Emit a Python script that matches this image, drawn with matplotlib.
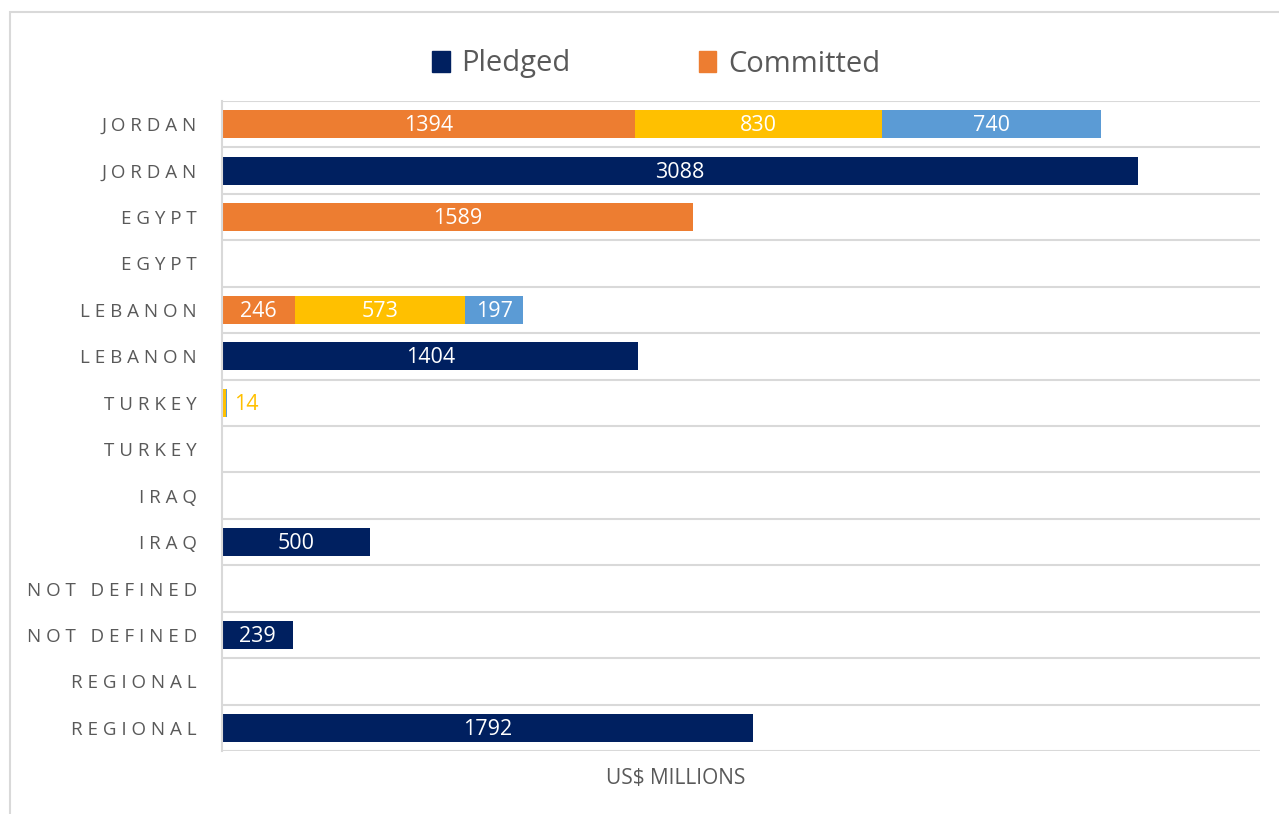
import numpy as np
import matplotlib.pyplot as plt
from matplotlib.patches import Patch, Rectangle

plt.rcParams['font.family'] = ['Open Sans', 'DejaVu Sans']

# rows from top to bottom
rows = ['JORDAN', 'JORDAN', 'EGYPT', 'EGYPT', 'LEBANON', 'LEBANON', 'TURKEY', 'TURKEY',
        'IRAQ', 'IRAQ', 'NOT DEFINED', 'NOT DEFINED', 'REGIONAL', 'REGIONAL']
pledged = [0, 3088, 0, 0, 0, 1404, 0, 0, 0, 500, 0, 239, 0, 1792]
committed_a = [1394, 0, 1589, 0, 246, 0, 0, 0, 0, 0, 0, 0, 0, 0]
committed_b = [830, 0, 0, 0, 573, 0, 14, 0, 0, 0, 0, 0, 0, 0]
committed_c = [740, 0, 0, 0, 197, 0, 3, 0, 0, 0, 0, 0, 0, 0]

navy = '#002060'
orange = '#ED7D31'
yellow = '#FFC000'
blue = '#5B9BD5'
grey = '#595959'

def spaced(s):
    return '   '.join(' '.join(w) for w in s.split(' '))

fig = plt.figure(figsize=(12.79, 8.14), dpi=100)
# chart frame
fig.patches.append(Rectangle((10 / 1279, -0.05), 1.1, 1 - 12 / 814 + 0.05,
                             transform=fig.transFigure, fill=False,
                             edgecolor='#D9D9D9', lw=1.5))

ax = fig.add_axes([222 / 1279, 1 - 751 / 814, (1260 - 222) / 1279, (751 - 101) / 814])
y = np.arange(len(rows))
h = 0.6

ax.barh(y, pledged, h, color=navy)
left = np.zeros(len(rows))
for vals, col in [(committed_a, orange), (committed_b, yellow), (committed_c, blue)]:
    vals = np.array(vals)
    ax.barh(y, vals, h, left=left, color=col)
    for i, v in enumerate(vals):
        if v >= 100:
            ax.text(left[i] + v / 2, y[i] + 0.03, str(v), ha='center', va='center',
                    color='white', fontsize=15.5)
        elif v >= 10:
            ax.text(left[i] + v + 25, y[i] + 0.03, str(v), ha='left', va='center',
                    color=yellow, fontsize=15.5)
    left += vals

for i, v in enumerate(pledged):
    if v > 0:
        ax.text(v / 2, y[i] + 0.03, str(v), ha='center', va='center', color='white',
                fontsize=15.5)

ax.set_xlim(0, 3500)
ax.set_ylim(len(rows) - 0.5, -0.5)
ax.set_yticks(y)
ax.set_yticklabels([spaced(r) for r in rows], color=grey, fontsize=13.5)
ax.set_yticks(np.arange(-0.5, len(rows)), minor=True)
ax.grid(True, which='minor', axis='y', color='#D9D9D9', lw=1.5)
ax.tick_params(axis='y', which='both', length=0, pad=18)
ax.set_xticks([])
for s in ['top', 'right', 'bottom']:
    ax.spines[s].set_visible(False)
ax.spines['left'].set_color('#D9D9D9')
ax.spines['left'].set_linewidth(1.5)
ax.set_axisbelow(True)

fig.text(676 / 1279, 1 - 778 / 814, 'US$ MILLIONS', color=grey, fontsize=15,
         ha='center', va='center')

handles = [Patch(color=navy, label='Pledged'), Patch(color=orange, label='Committed')]
fig.legend(handles=handles, loc='center', bbox_to_anchor=(0.513, 1 - 64 / 814), ncol=2,
           frameon=False, fontsize=21, labelcolor=grey, handlelength=0.6,
           handleheight=0.75, handletextpad=0.4, columnspacing=4.4)

fig.savefig('out.png', dpi=100)
